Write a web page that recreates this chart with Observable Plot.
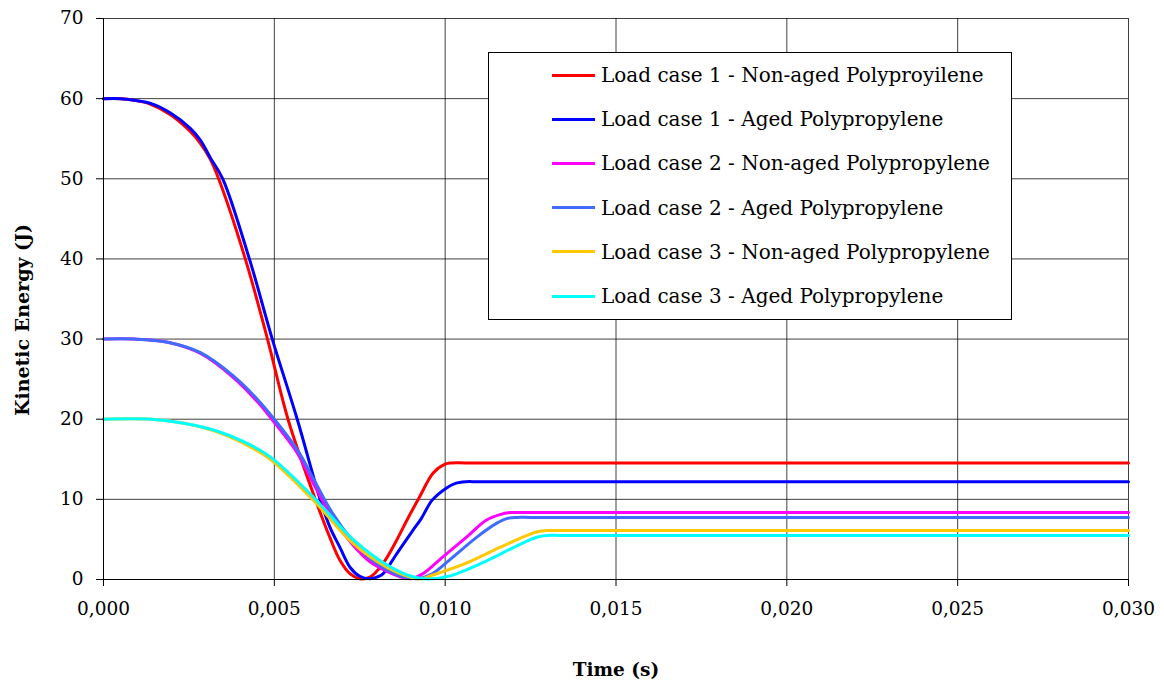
<!DOCTYPE html>
<html>
<head>
<meta charset="utf-8">
<script src="https://cdn.jsdelivr.net/npm/d3@7"></script>
<script src="https://cdn.jsdelivr.net/npm/@observablehq/plot@0.6"></script>
<style>
  html, body { margin: 0; padding: 0; background: #fff; }
  #wrap { position: relative; width: 1164px; height: 691px; }
  #legend {
    position: absolute; left: 488px; top: 52px; width: 524px; height: 268px;
    border: 1px solid #000; background: #fff; box-sizing: border-box;
    font-family: "DejaVu Serif", serif; font-size: 20px; color: #000;
  }
  .row { position: absolute; left: 0; height: 26px; display: flex; align-items: center; white-space: nowrap; }
  .sw { width: 43px; height: 3px; margin-left: 63px; margin-right: 6px; flex: none; }
</style>
</head>
<body>
<div id="wrap"><div id="legend"></div></div>
<script>
// ---- Data ----
const seriesNames = [
  "Load case 1 - Non-aged Polyproyilene",
  "Load case 1 - Aged Polypropylene",
  "Load case 2 - Non-aged Polypropylene",
  "Load case 2 - Aged Polypropylene",
  "Load case 3 - Non-aged Polypropylene",
  "Load case 3 - Aged Polypropylene"
];
const seriesColors = ["#ff0000", "#0000ff", "#ff00ff", "#3f6cff", "#ffc800", "#00ffff"];

const lc1NonAgedT = [0, 0.0005, 0.0009, 0.00138, 0.00196, 0.00254, 0.00284, 0.00313, 0.00337, 0.00415, 0.0048, 0.0054, 0.0062, 0.00663, 0.00692, 0.00722, 0.0075, 0.0078, 0.00818, 0.00858, 0.00888, 0.00925, 0.00965, 0.0100, 0.0102, 0.0106, 0.030];
const lc1NonAgedE = [60, 60, 59.8, 59.3, 58.0, 55.9, 54.4, 52.4, 50, 40, 30, 20, 10, 5.2, 2.4, 0.7, 0.1, 0.3, 2.0, 4.9, 7.4, 10.3, 13.3, 14.4, 14.55, 14.55, 14.55];

const lc1AgedT = [0, 0.0005, 0.0009, 0.00138, 0.00196, 0.00254, 0.00284, 0.00313, 0.00349, 0.00427, 0.00494, 0.00567, 0.00634, 0.00663, 0.00692, 0.00722, 0.0075, 0.0078, 0.0080, 0.00818, 0.00858, 0.00905, 0.0093, 0.00962, 0.01003, 0.0103, 0.0106, 0.0110, 0.030];
const lc1AgedE = [60, 60, 59.8, 59.4, 58.2, 56.3, 54.8, 52.6, 50, 40, 30, 20, 10, 6.5, 4, 1.5, 0.4, 0.1, 0.3, 0.7, 3.2, 6.1, 7.6, 9.9, 11.4, 12.0, 12.2, 12.2, 12.2];

const lc2NonAgedT = [0, 0.0009, 0.00188, 0.00284, 0.0038, 0.0045, 0.0050, 0.00567, 0.00614, 0.0067, 0.0073, 0.0078, 0.0083, 0.0087, 0.0090, 0.00934, 0.0099, 0.0106, 0.0112, 0.0116, 0.0119, 0.0123, 0.030];
const lc2NonAgedE = [30, 30, 29.6, 28.2, 25.2, 22.2, 19.6, 15.8, 12.0, 7.7, 4.3, 2.2, 1.0, 0.3, 0.1, 0.7, 2.7, 5.2, 7.4, 8.1, 8.35, 8.35, 8.35];

const lc2AgedT = [0, 0.0009, 0.00188, 0.00284, 0.0038, 0.0045, 0.0050, 0.00567, 0.00614, 0.0067, 0.0073, 0.0078, 0.0083, 0.0088, 0.0092, 0.00962, 0.0102, 0.0109, 0.0115, 0.0118, 0.0121, 0.0125, 0.030];
const lc2AgedE = [30, 30, 29.6, 28.3, 25.4, 22.5, 20.0, 16.2, 12.6, 8.3, 4.8, 2.6, 1.2, 0.3, 0.1, 0.7, 2.7, 5.2, 7.0, 7.6, 7.75, 7.75, 7.75];

const lc3NonAgedT = [0, 0.0014, 0.00235, 0.00334, 0.0041, 0.00488, 0.00614, 0.0073, 0.0083, 0.0089, 0.00925, 0.0096, 0.0106, 0.0116, 0.0124, 0.0127, 0.0130, 0.0134, 0.030];
const lc3NonAgedE = [20, 20, 19.5, 18.4, 17.0, 15.0, 9.9, 4.5, 1.5, 0.4, 0.05, 0.5, 2.0, 4.0, 5.5, 5.95, 6.1, 6.1, 6.1];

const lc3AgedT = [0, 0.0014, 0.00235, 0.00334, 0.0041, 0.00488, 0.00614, 0.0073, 0.0083, 0.0090, 0.0095, 0.0101, 0.0111, 0.0121, 0.0127, 0.0130, 0.0134, 0.030];
const lc3AgedE = [20, 20, 19.5, 18.5, 17.2, 15.3, 10.3, 5.0, 1.8, 0.4, 0.05, 0.4, 2.1, 4.2, 5.3, 5.5, 5.5, 5.5];

const xTicks = [0, 0.005, 0.010, 0.015, 0.020, 0.025, 0.030];
const yTicks = [0, 10, 20, 30, 40, 50, 60, 70];
const xLabel = "Time (s)";
const yLabel = "Kinetic Energy (J)";

// ---- Build table ----
const seriesT = [lc1NonAgedT, lc1AgedT, lc2NonAgedT, lc2AgedT, lc3NonAgedT, lc3AgedT];
const seriesE = [lc1NonAgedE, lc1AgedE, lc2NonAgedE, lc2AgedE, lc3NonAgedE, lc3AgedE];
const rows = [];
seriesNames.forEach((name, i) => {
  seriesT[i].forEach((t, j) => rows.push({series: name, t, E: seriesE[i][j]}));
});

const fmtX = d => d3.format(".3f")(d).replace(".", ",");

const chart = Plot.plot({
  width: 1164,
  height: 691,
  marginLeft: 103,
  marginRight: 36,
  marginTop: 18,
  marginBottom: 112,
  style: {fontFamily: "DejaVu Serif, serif", fontSize: "18.5px", color: "#000", background: "#fff"},
  x: {domain: [0, 0.030], ticks: xTicks},
  y: {domain: [0, 70], ticks: yTicks},
  color: {domain: seriesNames, range: seriesColors},
  marks: [
    Plot.gridX(xTicks, {stroke: "#000", strokeOpacity: 0.75, strokeWidth: 1}),
    Plot.gridY(yTicks, {stroke: "#000", strokeOpacity: 0.75, strokeWidth: 1}),
    Plot.line(rows, {x: "t", y: "E", z: "series", stroke: "series", strokeWidth: 3, curve: "catmull-rom"}),
    Plot.ruleY([0], {stroke: "#000"}),
    Plot.ruleX([0], {stroke: "#000"}),
    Plot.axisX(xTicks, {tickSize: 7, tickPadding: 15, tickFormat: fmtX, label: null, stroke: "#000", fontSize: 18.5}),
    Plot.axisY(yTicks, {tickSize: 7, tickPadding: 13, label: null, stroke: "#000", fontSize: 18.5}),
    Plot.text([xLabel], {frameAnchor: "bottom", textAnchor: "middle", dy: 96, fontWeight: "bold", fontSize: 18.5}),
    Plot.text([yLabel], {frameAnchor: "left", textAnchor: "middle", dx: -81, dy: 21, rotate: -90, fontWeight: "bold", fontSize: 19})
  ]
});
const wrap = document.getElementById("wrap");
wrap.insertBefore(chart, wrap.firstChild);

// ---- Legend ----
const legend = document.getElementById("legend");
seriesNames.forEach((name, i) => {
  const r = document.createElement("div");
  r.className = "row";
  r.style.top = (9 + i * 44.2) + "px";
  const sw = document.createElement("div");
  sw.className = "sw";
  sw.style.background = seriesColors[i];
  const tx = document.createElement("span");
  tx.textContent = name;
  r.appendChild(sw); r.appendChild(tx);
  legend.appendChild(r);
});
</script>
</body>
</html>
